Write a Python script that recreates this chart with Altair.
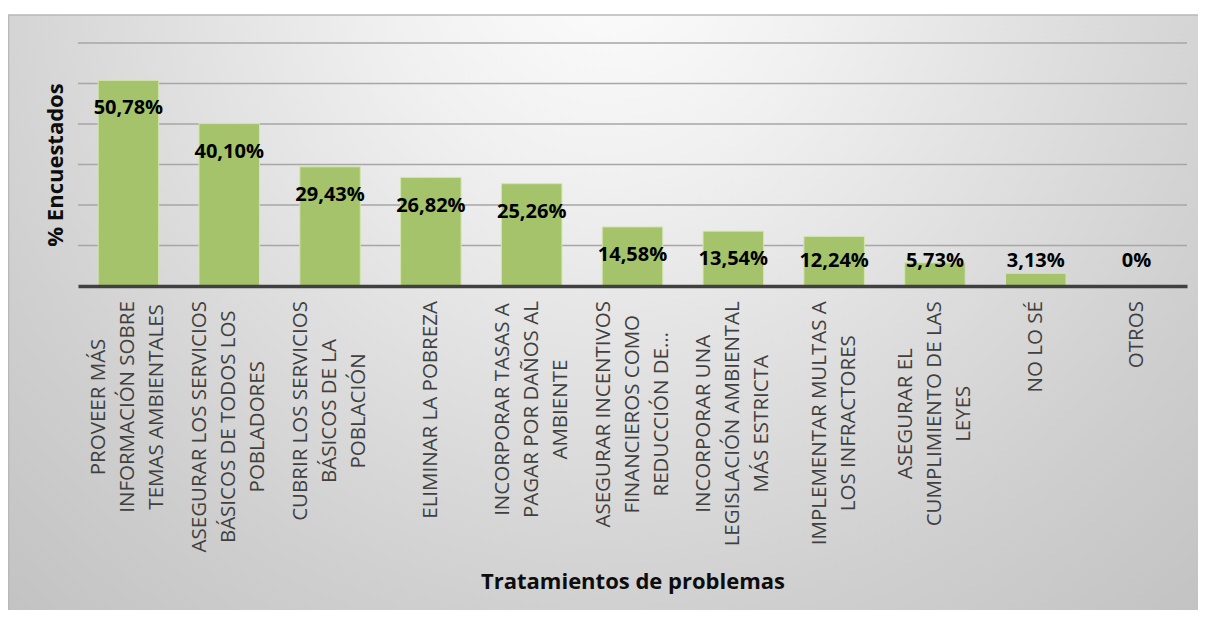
import altair as alt
import pandas as pd

# ---------------- data ----------------
label_lines = [
    ["PROVEER MÁS", "INFORMACIÓN SOBRE", "TEMAS AMBIENTALES"],
    ["ASEGURAR LOS SERVICIOS", "BÁSICOS DE TODOS LOS", "POBLADORES"],
    ["CUBRIR LOS SERVICIOS", "BÁSICOS DE LA", "POBLACIÓN"],
    ["ELIMINAR LA POBREZA"],
    ["INCORPORAR TASAS A", "PAGAR POR DAÑOS AL", "AMBIENTE"],
    ["ASEGURAR INCENTIVOS", "FINANCIEROS COMO", "REDUCCIÓN DE…"],
    ["INCORPORAR UNA", "LEGISLACIÓN AMBIENTAL", "MÁS ESTRICTA"],
    ["IMPLEMENTAR MULTAS A", "LOS INFRACTORES"],
    ["ASEGURAR EL", "CUMPLIMIENTO DE LAS", "LEYES"],
    ["NO LO SÉ"],
    ["OTROS"],
]
values = [50.78, 40.10, 29.43, 26.82, 25.26, 14.58, 13.54, 12.24, 5.73, 3.13, 0]
grid_values = [10, 20, 30, 40, 50, 60]

categories = [" ".join(l) for l in label_lines]


def fmt(v):
    if v == 0:
        return "0%"
    return f"{v:.2f}".replace(".", ",") + "%"


# ---------------- layout ----------------
W, H = 1109, 243
YMAX = 60
PAD = {"left": 70, "top": 35, "right": 11, "bottom": 324}
LABEL_FS = 20.5
LINE_H = 29
px_per_unit = H / YMAX

# approximate Open Sans advance widths (em) to centre multi-line labels
ow = {" ": 0.26, "A": 0.633, "Á": 0.633, "B": 0.648, "C": 0.631, "D": 0.729,
      "E": 0.556, "É": 0.556, "F": 0.516, "G": 0.728, "H": 0.738, "I": 0.279,
      "Í": 0.279, "L": 0.524, "M": 0.903, "N": 0.754, "Ñ": 0.754, "O": 0.779,
      "Ó": 0.779, "P": 0.602, "R": 0.618, "S": 0.549, "T": 0.553, "U": 0.728,
      "V": 0.595, "Y": 0.56, "Z": 0.571, "…": 0.8}


def text_w(s):
    return sum(ow.get(c, 0.6) for c in s) * LABEL_FS


df = pd.DataFrame({"cat": categories, "v": values,
                   "lab": [fmt(v) for v in values]})

lab_rows = []
for cat, lines in zip(categories, label_lines):
    wmax = max(text_w(s) for s in lines)
    off_px = 15 + wmax / 2.0  # below the axis line, block top-aligned
    lab_rows.append({"cat": cat, "txt": "\n".join(lines), "n": len(lines),
                     "ly": -off_px / px_per_unit})
lab_df = pd.DataFrame(lab_rows)

grid_df = pd.DataFrame({"g": grid_values})

yscale = alt.Scale(domain=[0, YMAX], nice=False, zero=True)
yaxis = alt.Axis(labels=False, ticks=False, domain=False, grid=False,
                 title="% Encuestados", titleFont="Open Sans",
                 titleFontSize=22, titleFontWeight="bold",
                 titleColor="#0d0d0d", titlePadding=11, zindex=1)
xscale = alt.Scale(paddingInner=0.4, paddingOuter=0.2)
xaxis = alt.Axis(labels=False, ticks=False, domain=True,
                 domainColor="#404040", domainWidth=3.5,
                 title="Tratamientos de problemas", titleFont="Open Sans",
                 titleFontSize=22, titleFontWeight="bold",
                 titleColor="#0d0d0d", titlePadding=285, zindex=1)

X = alt.X("cat:N", sort=categories, scale=xscale, axis=xaxis)

background = alt.Chart(pd.DataFrame({"a": [0]})).mark_rect(
    fill={
        "gradient": "radial",
        "x1": 0.5, "y1": 0.2, "r1": 0,
        "x2": 0.5, "y2": 0.2, "r2": 0.75,
        "stops": [
            {"offset": 0, "color": "#fdfdfd"},
            {"offset": 0.25, "color": "#f0f0f0"},
            {"offset": 0.55, "color": "#dcdcdc"},
            {"offset": 0.75, "color": "#cfcfcf"},
            {"offset": 1, "color": "#c2c2c2"},
        ],
    },
    stroke="#b8b8b8", strokeWidth=1.5,
).encode(
    x=alt.value(-PAD["left"] + 0.5),
    x2=alt.value(W + PAD["right"] + 3),
    y=alt.value(-28),
    y2=alt.value(H + PAD["bottom"] + 3),
)

grid = alt.Chart(grid_df).mark_rule(color="#a6a6a6", strokeWidth=1.3).encode(
    y=alt.Y("g:Q", scale=yscale, axis=yaxis),
)

bars = alt.Chart(df).mark_bar(
    color="#a5c36b", stroke="#d3e6b0", strokeWidth=1
).encode(
    x=X,
    y=alt.Y("v:Q", scale=yscale, axis=yaxis),
)

data_labels = alt.Chart(df).transform_calculate(
    ly="max(datum.v - 6.95, 6.2)"
).mark_text(
    font="Open Sans", fontSize=20, fontWeight="bold", color="#000000",
    baseline="middle", align="center",
).encode(
    x=X,
    y=alt.Y("ly:Q", scale=yscale, axis=yaxis),
    text="lab:N",
)

x_labels = alt.Chart(lab_df).mark_text(
    font="Open Sans", fontSize=LABEL_FS, color="#404040",
    angle=270, align="center", baseline="middle",
    lineBreak="\n", lineHeight=LINE_H,
    dy={"expr": f"-(datum.n - 1) * {LINE_H / 2}"},
).encode(
    x=X,
    y=alt.Y("ly:Q", scale=yscale, axis=yaxis),
    text="txt:N",
)

chart = alt.layer(background, grid, bars, data_labels, x_labels).properties(
    width=W, height=H,
    autosize=alt.AutoSizeParams(type="none"),
    padding=PAD,
).configure_view(stroke=None).configure(background="#ffffff")

chart.save("out.html", embed_options={"renderer": "svg", "actions": False})
